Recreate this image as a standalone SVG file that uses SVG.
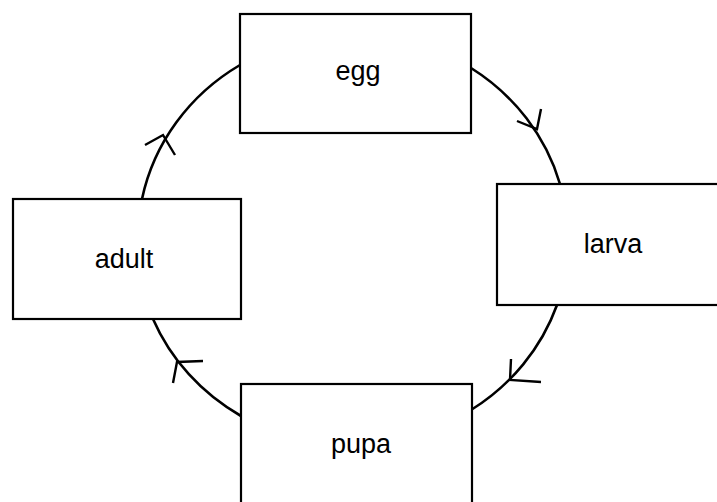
<svg xmlns="http://www.w3.org/2000/svg" width="717" height="502" viewBox="0 0 717 502">
<style>
.box{fill:#fff;stroke:#000;stroke-width:2.2}
.lbl{font-family:"Liberation Sans",Arial,sans-serif;font-size:27px;fill:#000;text-anchor:middle}
.arc{fill:none;stroke:#000;stroke-width:2.6}
.head{fill:none;stroke:#000;stroke-width:2.4;stroke-linejoin:miter}
</style>
<rect width="717" height="502" fill="#fff"/>
<g id="connectors">
<path class="arc" d="M471,68 A215,205 0 0 1 560,184"/>
<polyline class="head" points="517,121 537,129 541,109"/>
<path class="arc" d="M557,305 A215,205 0 0 1 471,410"/>
<polyline class="head" points="511,359 510,380 541,382"/>
<path class="arc" d="M241,416 A215,205 0 0 1 153,319"/>
<polyline class="head" points="203,361 177,362 173,383"/>
<path class="arc" d="M142,199 A215,205 0 0 1 240,65"/>
<polyline class="head" points="145,145 163,135 175,155"/>
</g>
<g id="egg">
<rect class="box" x="240" y="14" width="231" height="119"/>
<text class="lbl" x="358" y="80">egg</text>
</g>
<g id="larva">
<rect class="box" x="497" y="184" width="232" height="121"/>
<text class="lbl" x="613" y="253">larva</text>
</g>
<g id="pupa">
<rect class="box" x="241" y="384" width="231" height="130"/>
<text class="lbl" x="361" y="453">pupa</text>
</g>
<g id="adult">
<rect class="box" x="13" y="199" width="228" height="120"/>
<text class="lbl" x="124" y="268">adult</text>
</g>
</svg>
